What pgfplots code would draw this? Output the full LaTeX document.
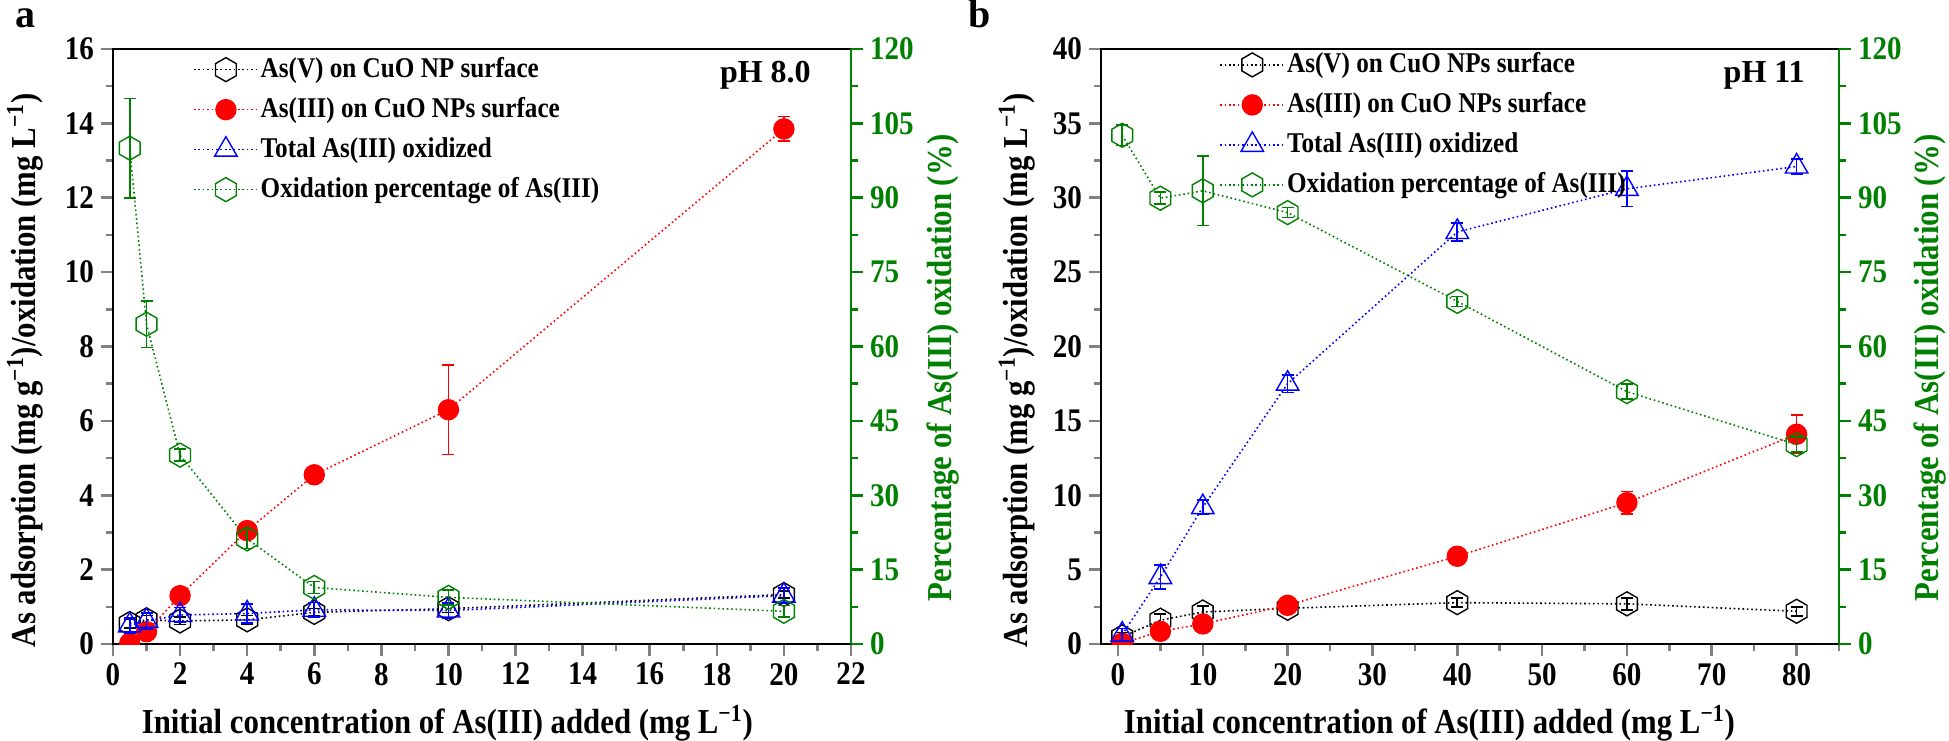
\documentclass[border=0pt]{standalone}
\usepackage{pgfplots}
\pgfplotsset{compat=1.18}
\usepackage{fontspec}
\setmainfont{Liberation Serif}[FakeStretch=0.88]
\newfontfamily\plainserif{Liberation Serif}
\definecolor{og}{RGB}{0,128,0}
\newcommand\fs[1]{\fontsize{#1}{#1}\selectfont}

\pgfdeclareplotmark{hexagon}{%
  \pgfpathmoveto{\pgfpoint{0pt}{\pgfplotmarksize}}%
  \pgfpathlineto{\pgfpoint{-0.866\pgfplotmarksize}{0.5\pgfplotmarksize}}%
  \pgfpathlineto{\pgfpoint{-0.866\pgfplotmarksize}{-0.5\pgfplotmarksize}}%
  \pgfpathlineto{\pgfpoint{0pt}{-\pgfplotmarksize}}%
  \pgfpathlineto{\pgfpoint{0.866\pgfplotmarksize}{-0.5\pgfplotmarksize}}%
  \pgfpathlineto{\pgfpoint{0.866\pgfplotmarksize}{0.5\pgfplotmarksize}}%
  \pgfpathclose\pgfusepathqstroke}

\pgfplotsset{
  base/.style={scale only axis, width=369pt, height=297.5pt, anchor=south west,
    axis line style={line width=1.3pt},
    tick style={line width=1.3pt},
    major tick length=6pt, minor tick length=3.5pt, tick align=outside,
    tick label style={font=\bfseries\fs{16.5}},
    /pgf/number format/assume math mode=true,
    label style={font=\bfseries\fs{17.5}},
    clip marker paths=true,
  },
  ser/.style={line width=0.8pt, dash pattern=on 0.8pt off 1.4pt,
    mark options={solid, line width=0.7pt},
    /pgfplots/error bars/y dir=both, /pgfplots/error bars/y explicit,
    /pgfplots/error bars/error bar style={solid, line width=0.8pt},
    /pgfplots/error bars/error mark options={solid, rotate=90, mark size=3pt, line width=0.8pt}},
  sV/.style={ser, black, mark=hexagon, mark size=6pt},
  sIII/.style={ser, red, mark=*, mark size=5pt},
  sT/.style={ser, blue, mark=triangle, mark size=6.5pt},
  sP/.style={ser, og, mark=hexagon, mark size=6pt},
  leg/.style={legend cell align=left,
    legend style={draw=none, fill=none, anchor=north west, font=\bfseries\fs{14.3},
      row sep=4.5pt, inner sep=0pt,
      nodes={text height=10.5pt, text depth=3pt, inner sep=1pt}},
    legend image code/.code={\draw[mark repeat=2, mark phase=2] plot coordinates {(0pt,0pt)(16pt,0pt)(32pt,0pt)};}},
}

% ---------- panel a data ----------
\pgfplotstableread{
x y e
0.5 0.55 0.12
1 0.65 0.12
2 0.62 0.10
4 0.65 0.12
6 0.85 0.10
10 0.95 0.10
20 1.33 0.10
}\aV
\pgfplotstableread{
x y e
0.5 0.02 0.05
1 0.33 0.15
2 1.30 0.10
4 3.05 0.10
6 4.55 0.10
10 6.30 1.20
20 13.85 0.33
}\aIII
\pgfplotstableread{
x y e
0.5 0.50 0.20
1 0.62 0.22
2 0.78 0.20
4 0.82 0.25
6 0.92 0.20
10 0.90 0.20
20 1.30 0.20
}\aT
\pgfplotstableread{
x y e
0.5 100 10
1 64.5 4.7
2 38.1 1.2
4 21.2 1.9
6 11.4 1.2
10 9.4 1.5
20 6.6 1.2
}\aP
% ---------- panel b data ----------
\pgfplotstableread{
x y e
0.5 0.48 0.30
5 1.60 0.40
10 2.15 0.40
20 2.40 0.20
40 2.78 0.30
60 2.70 0.40
80 2.20 0.30
}\bV
\pgfplotstableread{
x y e
0.5 0.05 0.05
5 0.85 0.40
10 1.35 0.35
20 2.60 0.20
40 5.90 0.10
60 9.50 0.75
80 14.10 1.30
}\bIII
\pgfplotstableread{
x y e
0.5 0.63 0.40
5 4.50 0.80
10 9.20 0.50
20 17.50 0.60
40 27.70 0.60
60 30.60 1.20
80 32.10 0.50
}\bT
\pgfplotstableread{
x y e
0.5 102.6 2.1
5 89.9 1.2
10 91.4 7.0
20 87.0 1.0
40 69.1 1.0
60 50.9 1.5
80 40.2 1.5
}\bP

\begin{document}
\begin{tikzpicture}
\useasboundingbox (0,0) rectangle (974.5pt,370pt);

% ================= panel a =================
\begin{axis}[base, at={(56.5pt,48pt)},
  xmin=0, xmax=22, ymin=0, ymax=16,
  xtick={0,2,...,22}, minor x tick num=1,
  ytick={0,2,...,16}, minor y tick num=1,
  xtick pos=left, ytick pos=left,
  xlabel={Initial concentration of As(III) added (mg L\textsuperscript{−1})},
  ylabel={As adsorption (mg g\textsuperscript{−1})/oxidation (mg L\textsuperscript{−1})},
  xlabel style={at={(axis description cs:0.453,-0.133)}, anchor=center},
  ylabel style={at={(axis description cs:-0.119,0.46)}, anchor=center},
]
\addplot[sV] table[x=x, y=y, y error=e] {\aV};
\addplot[sIII] table[x=x, y=y, y error=e] {\aIII};
\addplot[sT] table[x=x, y=y, y error=e] {\aT};
\node[anchor=east, font=\plainserif\bfseries\fs{16}] at (axis description cs:0.955,0.956) {pH 8.0};
\end{axis}
\begin{axis}[base, at={(56.5pt,48pt)}, leg,
  legend style={at={(axis description cs:0.108,0.992)}},
  xmin=0, xmax=22, ymin=0, ymax=120,
  axis x line=none, axis y line*=right,
  y axis line style={og, line width=1.3pt, -},
  tick style={og, line width=1.3pt},
  ytick={0,15,...,120}, minor y tick num=1,
  yticklabel style={og},
  ylabel={Percentage of As(III) oxidation (\%)},
  ylabel style={og, at={(axis description cs:1.125,0.464)}, anchor=center},
]
\addlegendimage{sV}\addlegendentry{As(V) on CuO NP surface}
\addlegendimage{sIII}\addlegendentry{As(III) on CuO NPs surface}
\addlegendimage{sT}\addlegendentry{Total As(III) oxidized}
\addplot[sP] table[x=x, y=y, y error=e] {\aP};
\addlegendentry{Oxidation percentage of As(III)}
\end{axis}

% ================= panel b =================
\begin{axis}[base, at={(550.5pt,48pt)},
  xmin=-2, xmax=85, ymin=0, ymax=40,
  xtick={0,10,...,80}, minor xtick={5,15,...,85},
  ytick={0,5,...,40}, minor y tick num=1,
  xtick pos=left, ytick pos=left,
  xlabel={Initial concentration of As(III) added (mg L\textsuperscript{−1})},
  ylabel={As adsorption (mg g\textsuperscript{−1})/oxidation (mg L\textsuperscript{−1})},
  xlabel style={at={(axis description cs:0.445,-0.133)}, anchor=center},
  ylabel style={at={(axis description cs:-0.114,0.46)}, anchor=center},
]
\addplot[sV] table[x=x, y=y, y error=e] {\bV};
\addplot[sIII] table[x=x, y=y, y error=e] {\bIII};
\addplot[sT] table[x=x, y=y, y error=e] {\bT};
\node[anchor=east, font=\plainserif\bfseries\fs{16}] at (axis description cs:0.963,0.956) {pH 11};
\end{axis}
\begin{axis}[base, at={(550.5pt,48pt)}, leg,
  legend style={at={(axis description cs:0.16,1.0)}},
  xmin=-2, xmax=85, ymin=0, ymax=120,
  axis x line=none, axis y line*=right,
  y axis line style={og, line width=1.3pt, -},
  tick style={og, line width=1.3pt},
  ytick={0,15,...,120}, minor y tick num=1,
  yticklabel style={og},
  ylabel={Percentage of As(III) oxidation (\%)},
  ylabel style={og, at={(axis description cs:1.123,0.464)}, anchor=center},
]
\addlegendimage{sV}\addlegendentry{As(V) on CuO NPs surface}
\addlegendimage{sIII}\addlegendentry{As(III) on CuO NPs surface}
\addlegendimage{sT}\addlegendentry{Total As(III) oxidized}
\addplot[sP] table[x=x, y=y, y error=e] {\bP};
\addlegendentry{Oxidation percentage of As(III)}
\end{axis}

\node[anchor=base, font=\plainserif\bfseries\fs{20}] at (13pt,356pt) {a};
\node[anchor=base, font=\plainserif\bfseries\fs{20}] at (490pt,356pt) {b};
\end{tikzpicture}
\end{document}
